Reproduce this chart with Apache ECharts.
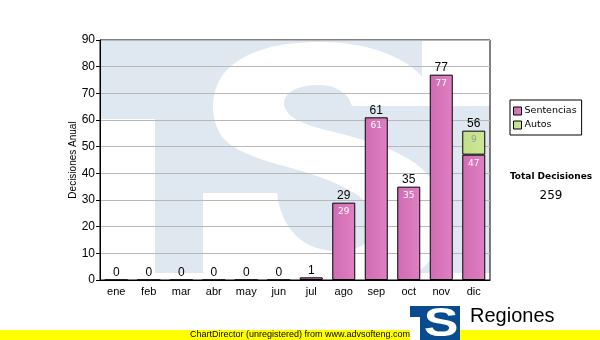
<!DOCTYPE html>
<html>
<head>
<meta charset="utf-8">
<script src="https://cdn.jsdelivr.net/npm/echarts@6/dist/echarts.min.js"></script>
<style>html,body{margin:0;padding:0;background:#fff}#c{width:600px;height:340px}</style>
</head>
<body>
<div id="c"></div>
<script>
var categories = ['ene','feb','mar','abr','may','jun','jul','ago','sep','oct','nov','dic'];
var sentencias = [0,0,0,0,0,0,1,29,61,35,77,47];
var autos = [0,0,0,0,0,0,0,0,0,0,0,9];
var yTicks = [0,10,20,30,40,50,60,70,80,90];

var totals = sentencias.map(function(v,i){return v+autos[i];});
var grandTotal = totals.reduce(function(a,b){return a+b;},0);

var pink = {type:'linear',x:0,y:0,x2:1,y2:0,colorStops:[{offset:0,color:'#cf6db3'},{offset:1,color:'#e07fc1'}]};
var green = {type:'linear',x:0,y:0,x2:1,y2:0,colorStops:[{offset:0,color:'#c3df88'},{offset:1,color:'#cde796'}]};

// decorative watermark outline (background logo, not data)
var watermarkS = 'M 425 106 L 352 106 C 348 92 335 85 318 85 C 300 85 283 92 284 104 ' +
  'C 285 116 300 124 330 131 C 375 142 415 155 432 180 C 448 205 447 245 425 266 ' +
  'C 405 283 370 288 330 288 C 280 288 230 284 203 272 L 203 193 L 277 193 ' +
  'C 280 220 295 245 325 250 C 350 255 375 245 376 225 C 377 200 345 185 305 172 ' +
  'C 270 162 240 155 225 140 C 210 125 208 92 225 72 C 245 50 280 42 320 42 ' +
  'C 365 42 405 55 425 80 Z';

function pathToPoints(d){
  var t = d.trim().split(/\s+/), i = 0, pts = [], cx = 0, cy = 0;
  while (i < t.length){
    var c = t[i++];
    if (c === 'M' || c === 'L'){ cx = +t[i++]; cy = +t[i++]; pts.push([cx,cy]); }
    else if (c === 'C'){
      var x1=+t[i++],y1=+t[i++],x2=+t[i++],y2=+t[i++],x3=+t[i++],y3=+t[i++];
      for (var k=1;k<=16;k++){
        var s=k/16, u=1-s;
        pts.push([u*u*u*cx+3*u*u*s*x1+3*u*s*s*x2+s*s*s*x3, u*u*u*cy+3*u*u*s*y1+3*u*s*s*y2+s*s*s*y3]);
      }
      cx = x3; cy = y3;
    }
  }
  return pts;
}

var chart = echarts.init(document.getElementById('c'), null, {renderer:'canvas'});
chart.setOption({
  animation:false,
  backgroundColor:'#fff',
  textStyle:{fontFamily:'Liberation Sans'},
  grid:{left:100,right:110,top:40,bottom:60,show:true,borderColor:'#000',borderWidth:1,backgroundColor:'transparent'},
  legend:{
    data:['Sentencias','Autos'],
    orient:'vertical',left:510,top:100,
    itemWidth:8,itemHeight:8,itemGap:4,
    padding:[6,5,5,3],
    borderColor:'#000',borderWidth:1,
    icon:'rect',
    itemStyle:{borderColor:'#000',borderWidth:1},
    textStyle:{fontFamily:'DejaVu Sans',fontSize:9.5,color:'#000',padding:[0,0,0,-2]}
  },
  xAxis:{
    type:'category',data:categories,
    axisLine:{lineStyle:{color:'#000',width:1}},
    axisTick:{alignWithLabel:true,length:4,lineStyle:{color:'#000'}},
    axisLabel:{color:'#000',fontSize:11,margin:6,fontFamily:'Liberation Sans'}
  },
  yAxis:{
    type:'value',min:0,max:90,interval:10,
    name:'Decisiones Anual',nameLocation:'middle',nameGap:22,nameMoveOverlap:false,
    nameTextStyle:{color:'#000',fontSize:10,fontFamily:'Liberation Sans'},
    axisLine:{show:true,lineStyle:{color:'#000'}},
    axisTick:{show:true,length:4,lineStyle:{color:'#000'}},
    axisLabel:{color:'#000',fontSize:12,margin:5,fontFamily:'Liberation Sans',
      formatter:function(v){return yTicks.indexOf(v)>=0?String(v):'';}},
    splitLine:{lineStyle:{color:'#b8b8b8',width:1}}
  },
  series:[
    {name:'Sentencias',type:'bar',stack:'a',barWidth:23,data:sentencias,z:3,
     itemStyle:{color:pink,borderColor:'#000',borderWidth:1},
     label:{show:true,position:'insideTop',distance:4,color:'#fff',fontSize:9,fontFamily:'DejaVu Sans',
       formatter:function(p){return p.value>=2?String(p.value):'';}}},
    {name:'Autos',type:'bar',stack:'a',barWidth:23,data:autos.map(function(v){return v>0?v:{value:0,itemStyle:{borderWidth:0}};}),z:3,
     itemStyle:{color:green,borderColor:'#000',borderWidth:1},
     label:{show:true,position:'insideTop',distance:4,color:'#9a9a9a',fontSize:9,fontFamily:'DejaVu Sans',
       formatter:function(p){return p.value>0?String(p.value):'';}}},
    {name:'Total',type:'bar',stack:'a',barWidth:23,data:totals.map(function(){return 0;}),z:4,
     itemStyle:{color:'transparent',borderWidth:0},
     label:{show:true,position:'top',distance:1,color:'#000',fontSize:12,fontFamily:'Liberation Sans',
       formatter:function(p){return String(totals[p.dataIndex]);}}}
  ],
  graphic:{elements:[
    {type:'rect',z:-10,silent:true,shape:{x:101,y:41,width:389,height:232},style:{fill:'#dfe8f1'}},
    {type:'rect',z:-9,silent:true,shape:{x:101,y:119,width:54,height:154},style:{fill:'#fff'}},
    {type:'rect',z:-9,silent:true,shape:{x:422,y:41,width:68,height:65},style:{fill:'#fff'}},
    {type:'polygon',z:-8,silent:true,shape:{points:pathToPoints(watermarkS)},style:{fill:'#fff'}},
    {type:'text',silent:true,x:551,y:177,style:{text:'Total Decisiones',font:'bold 9px "DejaVu Sans"',fill:'#000',align:'center',verticalAlign:'middle'}},
    {type:'text',silent:true,x:551,y:196,style:{text:String(grandTotal),font:'12px "DejaVu Sans"',fill:'#000',align:'center',verticalAlign:'middle'}},
    {type:'text',silent:true,x:467,y:335,style:{text:'Tribunal Supremo de Justicia',font:'10px "Liberation Sans"',fill:'#000',align:'left',verticalAlign:'middle'}},
    {type:'rect',silent:true,z:10,shape:{x:0,y:330,width:600,height:10},style:{fill:'#ffff00'}},
    {type:'text',silent:true,z:11,x:300,y:335,style:{text:'ChartDirector (unregistered) from www.advsofteng.com',font:'9px "Liberation Sans"',fill:'#000',align:'center',verticalAlign:'middle'}},
    {type:'rect',silent:true,z:11,shape:{x:410,y:306,width:50,height:34},style:{fill:'#0a4a8e'}},
    {type:'rect',silent:true,z:12,shape:{x:410,y:317,width:10,height:23},style:{fill:'#fff'}},
    {type:'text',silent:true,z:12,x:441,y:325,scaleX:1.3,style:{text:'S',font:'bold 40px "Liberation Sans"',fill:'#fff',align:'center',verticalAlign:'middle'}},
    {type:'text',silent:true,z:11,x:470,y:316,style:{text:'Regiones',font:'20px "Liberation Sans"',fill:'#000',align:'left',verticalAlign:'middle'}}
  ]}
});
</script>
</body>
</html>
